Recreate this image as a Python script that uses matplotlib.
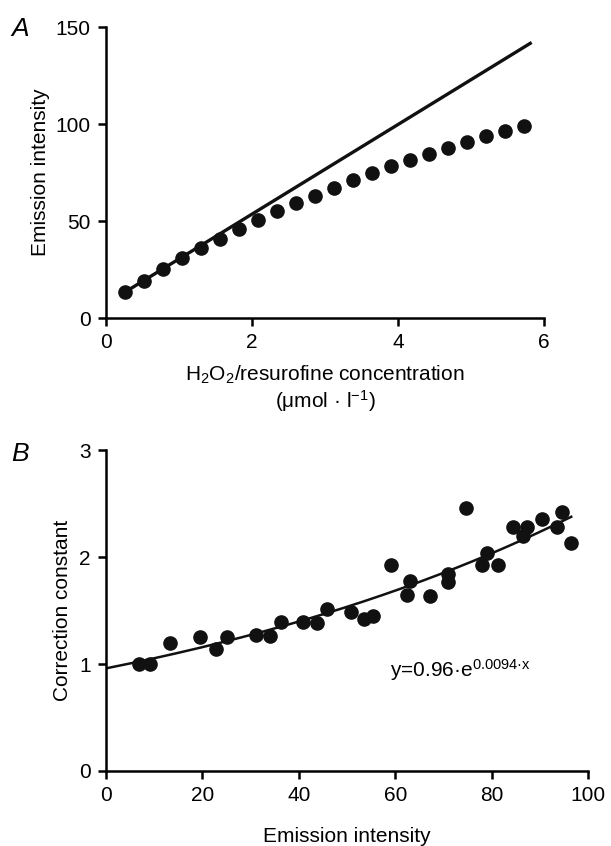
import numpy as np
import matplotlib
matplotlib.use("Agg")
import matplotlib.pyplot as plt

plt.rcParams['font.family'] = ['Liberation Sans', 'DejaVu Sans']
plt.rcParams['mathtext.fontset'] = 'custom'
plt.rcParams['mathtext.rm'] = 'Liberation Sans'
plt.rcParams['mathtext.it'] = 'Liberation Sans:italic'

# panel A: emission vs concentration
conc = [0.26, 0.52, 0.78, 1.04, 1.30, 1.56, 1.82, 2.08, 2.34, 2.60, 2.86,
        3.12, 3.38, 3.64, 3.90, 4.16, 4.42, 4.68, 4.94, 5.20, 5.46, 5.72]
emission = [13.2, 19.2, 25.1, 30.9, 36.1, 40.9, 45.7, 50.5, 55.2, 59.3, 63.0,
            67.2, 71.0, 74.6, 78.2, 81.4, 84.5, 87.6, 90.6, 93.7, 96.6, 99.0]
lin_slope = 23.1
lin_icpt = 7.4
lin_range = [0.26, 5.81]

# panel B: correction constant vs emission intensity
intensity = [6.9, 9.1, 13.3, 19.4, 22.9, 25.0, 31.1, 34.0, 36.3, 40.9, 43.8,
             45.9, 50.8, 53.5, 55.3, 59.2, 62.4, 63.1, 67.2, 70.9, 71.0, 74.6,
             78.0, 79.0, 81.3, 84.4, 86.4, 87.4, 90.5, 93.6, 94.5, 96.4]
corr = [1.00, 1.00, 1.20, 1.25, 1.14, 1.25, 1.27, 1.26, 1.39, 1.39, 1.38,
        1.52, 1.49, 1.42, 1.45, 1.93, 1.65, 1.78, 1.64, 1.77, 1.84, 2.46,
        1.93, 2.04, 1.93, 2.28, 2.20, 2.28, 2.36, 2.28, 2.42, 2.13]
fit_a = 0.96
fit_b = 0.0094
fit_range = [0, 96.5]

fig = plt.figure(figsize=(6.11, 8.46), dpi=100)
axA = fig.add_axes([0.1735, 0.624, 0.717, 0.344])
axB = fig.add_axes([0.1735, 0.0887, 0.789, 0.379])

fs = 15
for ax in (axA, axB):
    for s in ('top', 'right'):
        ax.spines[s].set_visible(False)
    for s in ('left', 'bottom'):
        ax.spines[s].set_linewidth(1.8)
    ax.tick_params(width=1.8, length=6, labelsize=fs, direction='out', pad=5)

xa = np.array(lin_range)
axA.plot(xa, lin_icpt + lin_slope * xa, color='#111111', lw=2.4, zorder=2)
axA.plot(conc, emission, 'o', color='#111111', ms=9.5, zorder=3)
axA.set_xlim(0, 6)
axA.set_ylim(0, 150)
axA.set_xticks([0, 2, 4, 6])
axA.set_yticks([0, 50, 100, 150])
axA.set_ylabel('Emission intensity', fontsize=fs, labelpad=4)
axA.set_xlabel('H$_2$O$_2$/resurofine concentration\n(\u03bcmol \u00b7 l$^{\\mathregular{-1}}$)',
               fontsize=fs, labelpad=8, linespacing=1.1)

xb = np.linspace(fit_range[0], fit_range[1], 200)
axB.plot(xb, fit_a * np.exp(fit_b * xb), color='#111111', lw=1.8, zorder=2)
axB.plot(intensity, corr, 'o', color='#111111', ms=9.5, zorder=3)
axB.set_xlim(0, 100)
axB.set_ylim(0, 3)
axB.set_xticks([0, 20, 40, 60, 80, 100])
axB.set_yticks([0, 1, 2, 3])
axB.set_ylabel('Correction constant', fontsize=fs, labelpad=5)
axB.set_xlabel('Emission intensity', fontsize=fs, labelpad=16)
axB.text(59, 0.88, 'y=0.96\u00b7e$^{\\mathregular{0.0094\u00b7x}}$', fontsize=fs)

fig.text(0.018, 0.958, 'A', fontsize=19, style='italic')
fig.text(0.018, 0.455, 'B', fontsize=19, style='italic')

fig.savefig('out.png', dpi=100)
